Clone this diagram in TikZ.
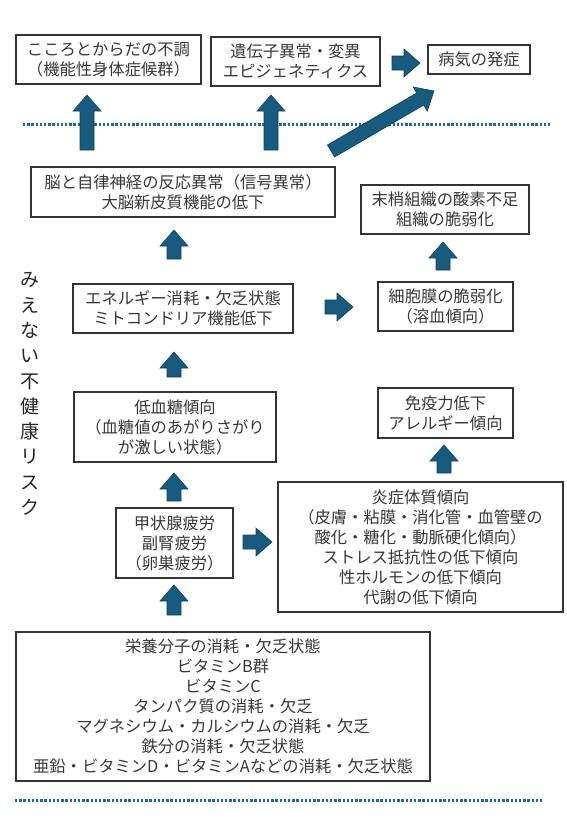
\documentclass[tikz,border=0pt]{standalone}
\usepackage{fontspec}
\setmainfont{Noto Sans CJK JP}
\usepackage{tikz}
\usetikzlibrary{calc}

\definecolor{arrowfill}{HTML}{175B7E}
\definecolor{arrowline}{HTML}{123F57}
\definecolor{dotblue}{HTML}{1F6A93}
\definecolor{boxline}{HTML}{333333}
\definecolor{textgray}{HTML}{383838}

\begin{document}
\begin{tikzpicture}[
  x=1pt,y=-1pt,
  box/.style={draw=boxline, line width=1.3pt, fill=white, align=center, inner sep=0pt, text=textgray, font=\fontsize{16.3}{20}\selectfont},
  vtext/.style={align=center, inner sep=0pt, text=black!85, font=\fontsize{19}{25.3}\selectfont},
  sep/.style={draw=dotblue, line width=3pt, dash pattern=on 2.4pt off 1.8pt},
  barr/.style={fill=arrowfill, draw=arrowline, line width=0.6pt, line join=miter, to path={
    ($(\tikztostart)!7pt!-90:(\tikztotarget)$)
    -- ($(\tikztotarget)!16pt!(\tikztostart)!7pt!90:(\tikztostart)$)
    -- ($(\tikztotarget)!16pt!(\tikztostart)!14pt!90:(\tikztostart)$)
    -- (\tikztotarget)
    -- ($(\tikztotarget)!16pt!(\tikztostart)!14pt!-90:(\tikztostart)$)
    -- ($(\tikztotarget)!16pt!(\tikztostart)!7pt!-90:(\tikztostart)$)
    -- ($(\tikztostart)!7pt!90:(\tikztotarget)$) -- cycle}}
]
\fill[white] (0,0) rectangle (567,819);
\useasboundingbox (0,0) rectangle (567,819);

% top row
\node[box, minimum width=185, minimum height=49] (mind) at (108.5,59.5) {こころとからだの不調\\（機能性身体症候群）};
\node[box, minimum width=169, minimum height=49] (gene) at (295.5,61.5) {遺伝子異常・変異\\エピジェネティクス};
\node[box, minimum width=102, minimum height=29] (onset) at (479,59.5) {病気の発症};

% middle
\node[box, minimum width=304, minimum height=50] (brain) at (183,192) {脳と自律神経の反応異常（信号異常）\\大脳新皮質機能の低下};
\node[box, minimum width=168, minimum height=49] (tissue) at (445,209.5) {末梢組織の酸素不足\\組織の脆弱化};
\node[box, minimum width=220, minimum height=49] (energy) at (183,308.5) {エネルギー消耗・欠乏状態\\ミトコンドリア機能低下};
\node[box, minimum width=135, minimum height=49] (membrane) at (445.5,306.5) {細胞膜の脆弱化\\（溶血傾向）};
\node[box, minimum width=202, minimum height=70] (sugar) at (175,427) {低血糖傾向\\（血糖値のあがりさがり\\が激しい状態）};
\node[box, minimum width=135, minimum height=50] (immune) at (445.5,413) {免疫力低下\\アレルギー傾向};
\node[box, minimum width=117, minimum height=70] (thyroid) at (174.5,543) {甲状腺疲労\\副腎疲労\\（卵巣疲労）};
\node[box, minimum width=285, minimum height=130] (inflam) at (420.5,547) {炎症体質傾向\\（皮膚・粘膜・消化管・血管壁の\\酸化・糖化・動脈硬化傾向）\\ストレス抵抗性の低下傾向\\性ホルモンの低下傾向\\代謝の低下傾向};

% bottom
\node[box, minimum width=414, minimum height=149] (nutrient) at (223,706.5) {栄養分子の消耗・欠乏状態\\ビタミンB群\\ビタミンC\\タンパク質の消耗・欠乏\\マグネシウム・カルシウムの消耗・欠乏\\鉄分の消耗・欠乏状態\\亜鉛・ビタミンD・ビタミンAなどの消耗・欠乏状態};

\node[vtext] (risk) at (30,394) {み\\え\\な\\い\\不\\健\\康\\リ\\ス\\ク};

% separators
\draw[sep] (23,124) -- (550,124);
\draw[sep] (15,800) -- (543,800);

% arrow ends
\coordinate (mind tail) at (87,150);      \coordinate (mind tip) at (87,95);
\coordinate (gene tail) at (271,150);     \coordinate (gene tip) at (271,95);
\coordinate (onset tail) at (331,151);    \coordinate (onset tip) at (434,91);
\coordinate (gene out) at (392,63);       \coordinate (onset in) at (420,63);
\coordinate (energy up) at (174,259);     \coordinate (brain in) at (174,230);
\coordinate (membrane up) at (443,270);   \coordinate (tissue in) at (443,242);
\coordinate (energy out) at (325,307);    \coordinate (membrane in) at (353,307);
\coordinate (sugar up) at (174,377);      \coordinate (energy in) at (174,352);
\coordinate (inflam up) at (444,473);     \coordinate (immune in) at (444,445);
\coordinate (thyroid up) at (174,501);    \coordinate (sugar in) at (174,473);
\coordinate (thyroid out) at (243,542);   \coordinate (inflam in) at (272,542);
\coordinate (nutrient up) at (174,615);   \coordinate (thyroid in) at (174,585);

% block arrows
\draw[barr] (mind tail) to (mind tip);
\draw[barr] (gene tail) to (gene tip);
\draw[barr] (onset tail) to (onset tip);
\draw[barr] (gene out) to (onset in);
\draw[barr] (energy up) to (brain in);
\draw[barr] (membrane up) to (tissue in);
\draw[barr] (energy out) to (membrane in);
\draw[barr] (sugar up) to (energy in);
\draw[barr] (inflam up) to (immune in);
\draw[barr] (thyroid up) to (sugar in);
\draw[barr] (thyroid out) to (inflam in);
\draw[barr] (nutrient up) to (thyroid in);
\end{tikzpicture}
\end{document}
